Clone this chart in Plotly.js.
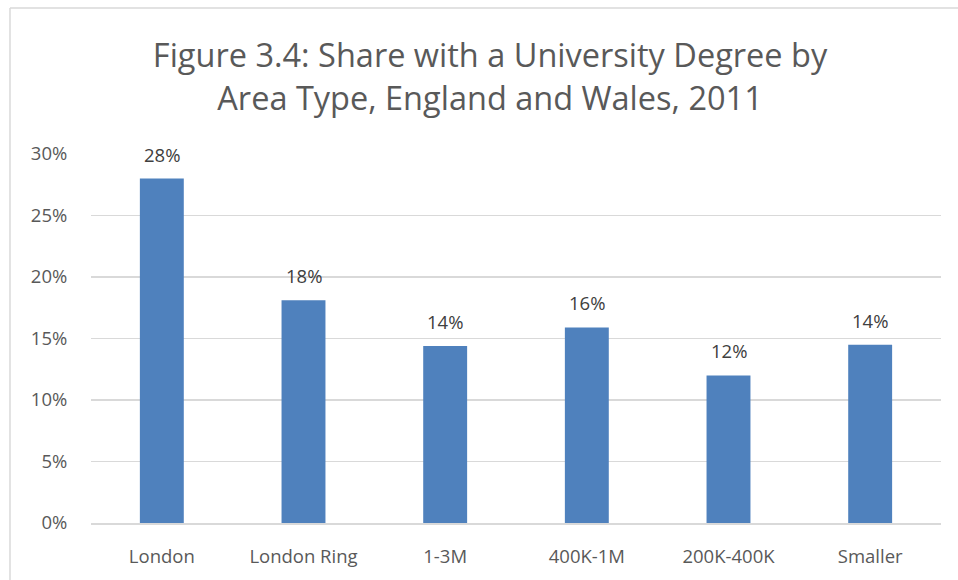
<!DOCTYPE html>
<html><head><meta charset="utf-8">
<script src="https://cdn.plot.ly/plotly-3.0.1.min.js"></script>
<style>html,body{margin:0;padding:0;background:#fff}#chart{width:958px;height:580px}</style>
</head><body><div id="chart"></div>
<script>
const categories = ["London", "London Ring", "1-3M", "400K-1M", "200K-400K", "Smaller"];
const shareDegree = [0.280, 0.181, 0.144, 0.159, 0.120, 0.145];
const yTickVals = [0, 0.05, 0.10, 0.15, 0.20, 0.25, 0.30];
const yTickText = ["0%", "5%", "10%", "15%", "20%", "25%", "30%"];

const font = "Open Sans, Noto Sans, sans-serif";
const trace = {
  type: "bar", x: categories, y: shareDegree,
  marker: {color: "#4F81BD"},
  hoverinfo: "x+y"
};
const labels = categories.map((c, i) => ({
  x: c, y: shareDegree[i], xref: "x", yref: "y",
  text: Math.round(shareDegree[i]*100) + "%", showarrow: false,
  yanchor: "bottom", yshift: 10,
  font: {family: font, size: 18.5, color: "#404040"}
}));
const layout = {
  width: 958, height: 580,
  margin: {l: 91, r: 17, t: 154, b: 57},
  paper_bgcolor: "#fff", plot_bgcolor: "#fff",
  bargap: 0.69,
  showlegend: false,
  title: {text: "Figure 3.4: Share with a University Degree by<br>Area Type, England and Wales, 2011",
    font: {family: font, size: 32.5, color: "#595959", lineposition: "none"},
    x: 0.5115, xref: "container", xanchor: "center",
    y: 0.884, yref: "container", yanchor: "middle"},
  xaxis: {tickfont: {family: font, size: 18.5, color: "#595959"}, showline: true, linecolor: "#D9D9D9", linewidth: 1.5,
    ticks: "outside", ticklen: 16, tickcolor: "rgba(0,0,0,0)", fixedrange: true},
  yaxis: {range: [0, 0.30], tickvals: yTickVals, ticktext: yTickText, showgrid: true, gridcolor: "#D9D9D9", gridwidth: 1.5,
    zeroline: false, tickfont: {family: font, size: 18.5, color: "#595959"}, ticklen: 19, tickcolor: "rgba(0,0,0,0)", ticks: "outside"},
  annotations: labels,
  shapes: [
    {type: "line", xref: "paper", yref: "paper", x0: -0.0953, x1: -0.0953, y0: 1.3957, y1: -0.2, line: {color: "#D9D9D9", width: 1.5}},
    {type: "line", xref: "paper", yref: "paper", x0: -0.0953, x1: 1.1, y0: 1.3957, y1: 1.3957, line: {color: "#D9D9D9", width: 1.5}}
  ]
};
Plotly.newPlot("chart", [trace], layout, {displayModeBar: false, staticPlot: true});
</script></body></html>
